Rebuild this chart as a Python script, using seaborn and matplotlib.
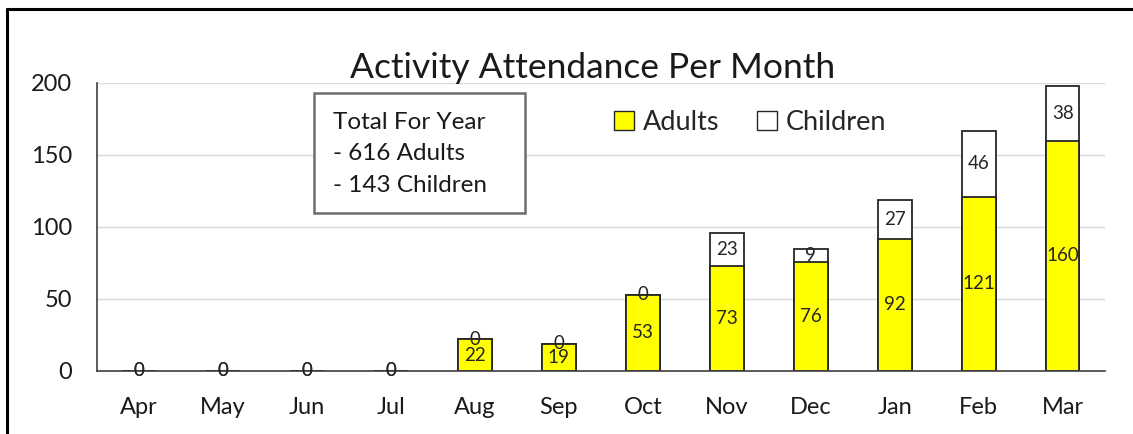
import matplotlib
matplotlib.use('Agg')
import matplotlib.pyplot as plt
from matplotlib.patches import Rectangle, Patch
from matplotlib.lines import Line2D
import pandas as pd
import seaborn as sns

# Data
months = ['Apr', 'May', 'Jun', 'Jul', 'Aug', 'Sep', 'Oct', 'Nov', 'Dec', 'Jan', 'Feb', 'Mar']
adults = [0, 0, 0, 0, 22, 19, 53, 73, 76, 92, 121, 160]
children = [0, 0, 0, 0, 0, 0, 0, 23, 9, 27, 46, 38]
y_ticks = [0, 50, 100, 150, 200]

df = pd.DataFrame({'month': months, 'Adults': adults, 'Children': children})
df['Total'] = df['Adults'] + df['Children']

sns.set_style('white')
plt.rcParams['font.family'] = ['Lato', 'DejaVu Sans']

fig = plt.figure(figsize=(11.33, 4.34), dpi=100)
ax = fig.add_axes([0.0856, 0.1452, 0.8894, 0.6636])

# stacked bars: total drawn first (children part), adults on top of it
sns.barplot(data=df, x='month', y='Total', color='white', edgecolor='#262626',
            linewidth=1.3, width=0.4, saturation=1, ax=ax)
sns.barplot(data=df, x='month', y='Adults', color='#ffff00', edgecolor='#262626',
            linewidth=1.3, width=0.4, saturation=1, ax=ax)

# data labels
for i, (a, c) in enumerate(zip(adults, children)):
    ax.text(i, a / 2, str(a), ha='center', va='center', fontsize=13.5, color='#262626')
    ax.text(i, a + c / 2, str(c), ha='center', va='center', fontsize=13.5, color='#262626')

ax.set_xlim(-0.5, 11.5)
ax.set_ylim(0, 200)
ax.set_yticks(y_ticks)
ax.set_xlabel('')
ax.set_ylabel('')
ax.grid(axis='y', color='#d9d9d9', linewidth=1)
ax.set_axisbelow(True)
for s in ['top', 'right']:
    ax.spines[s].set_visible(False)
ax.spines['left'].set_color('#404040')
ax.spines['bottom'].set_color('#404040')
ax.spines['left'].set_linewidth(1.2)
ax.spines['bottom'].set_linewidth(1.2)
ax.tick_params(axis='both', length=0, labelsize=17, labelcolor='#1a1a1a')
ax.tick_params(axis='x', pad=19)
ax.tick_params(axis='y', pad=18)

fig.text(0.523, 0.843, 'Activity Attendance Per Month', ha='center', va='center',
         fontsize=25.5, color='#1a1a1a')

# legend
handles = [Patch(facecolor='#ffff00', edgecolor='#262626', label='Adults'),
           Patch(facecolor='white', edgecolor='#262626', label='Children')]
fig.legend(handles=handles, loc='center left', bbox_to_anchor=(0.542, 0.718), ncol=2,
           frameon=False, fontsize=19.5, handlelength=0.75, handleheight=0.75,
           handletextpad=0.3, columnspacing=1.4, borderpad=0, borderaxespad=0)

# totals box
fig.patches.append(Rectangle((314 / 1133, 1 - 213 / 434), 211 / 1133, 120 / 434,
                             transform=fig.transFigure, facecolor='white',
                             edgecolor='#6e6e6e', linewidth=1.8, zorder=5))
fig.text(333 / 1133, 1 - 154 / 434, 'Total For Year\n- 616 Adults\n- 143 Children',
         ha='left', va='center', fontsize=17.5, linespacing=1.62, color='#1a1a1a', zorder=6)

# outer frame
fig.add_artist(Line2D([7 / 1133, 1], [1 - 9 / 434, 1 - 9 / 434], transform=fig.transFigure,
                      color='black', linewidth=2.2))
fig.add_artist(Line2D([7 / 1133, 7 / 1133], [0, 1 - 9 / 434], transform=fig.transFigure,
                      color='black', linewidth=2.2))

fig.savefig('out.png', dpi=100)
